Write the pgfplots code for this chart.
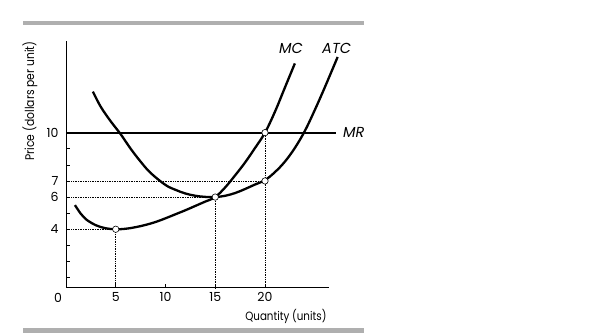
\documentclass[border=0pt]{standalone}
\usepackage{pgfplots}
\pgfplotsset{compat=1.18}
\usepackage{fontspec}
\setmainfont{Poppins}[FakeStretch=0.86]
\newfontfamily\wideface{Poppins}
\definecolor{bargray}{RGB}{175,175,175}
\begin{document}
\begin{tikzpicture}[x=1pt,y=1pt]
\useasboundingbox (0,0) rectangle (615,336);
\fill[bargray] (22.7,310.5) rectangle (364,315);
\fill[bargray] (22.7,3.3) rectangle (364,7.7);
\begin{axis}[
  at={(66pt,48.3pt)}, anchor=south west,
  x=9.95pt, y=16.1pt,
  xmin=0, xmax=26.4, ymin=0.37, ymax=15.7,
  axis lines*=left,
  axis line style={line width=0.8pt,-},
  tick align=inside,
  major tick length=4pt,
  tick style={line width=0.6pt,black},
  xtick={5,10,15,20},
  ytick={1,2,3,4,5,6,7,8,9,10},
  yticklabels={,,,4,,6,7,,,10},
  /pgf/number format/assume math mode=true,
  ticklabel style={font=\wideface\fontsize{12.5}{14}\selectfont},
  yticklabel style={xshift=-4pt},
  xticklabel style={yshift=-1pt},
  clip=false,
]
% dotted guide lines
\addplot[line width=0.7pt, dash pattern=on 0.8pt off 0.9pt] coordinates {(0,4) (5,4) (5,0.37)};
\addplot[line width=0.7pt, dash pattern=on 0.8pt off 0.9pt] coordinates {(0,6) (15,6) (15,0.37)};
\addplot[line width=0.7pt, dash pattern=on 0.8pt off 0.9pt] coordinates {(0,7) (20,7)};
\addplot[line width=0.7pt, dash pattern=on 0.8pt off 0.9pt] coordinates {(20,10) (20,0.37)};
% MR
\addplot[line width=2.3pt] coordinates {(0,10) (27.1,10)};
% MC
\addplot[line width=2.3pt, smooth, tension=0.6] coordinates {
(0.9,5.5) (1.5,4.95) (2,4.62) (3,4.25) (4,4.06) (5,4.0) (6,4.03) (7,4.13) (8,4.27) (9,4.45) (10,4.68) (11,4.93) (12,5.18) (13,5.45) (14,5.72) (15,6.0) (16,6.6) (17,7.35) (18,8.15) (19,9.05) (20,10.0) (21,11.3) (22,12.8) (23,14.3)};
% ATC
\addplot[line width=2.3pt, smooth, tension=0.6] coordinates {
(2.7,12.55) (3.5,11.6) (4.5,10.7) (5.5,9.9) (6.5,9.0) (7.5,8.2) (8.5,7.5) (10,6.75) (11,6.45) (12,6.22) (13,6.08) (14,6.01) (15,6.0) (16,6.08) (17,6.25) (18,6.5) (19,6.78) (20,7.05) (21,7.55) (22,8.2) (23,9.05) (24,10.1) (25,11.4) (26,12.8) (27.3,14.7)};
% points
\addplot[only marks, mark=*, mark size=3.2pt, mark options={fill=white, draw=black, line width=0.6pt}] coordinates {(5,4) (15,6) (20,7) (20,10)};
\node[font=\wideface\fontsize{14.5}{16}\selectfont\itshape] at (axis cs:22.6,15.25) {MC};
\node[font=\wideface\fontsize{14.5}{16}\selectfont\itshape] at (axis cs:27.2,15.25) {ATC};
\node[font=\wideface\fontsize{14.5}{16}\selectfont\itshape, anchor=west] at (axis cs:27.5,10) {MR};
\end{axis}
\node[font=\wideface\fontsize{12.5}{14}\selectfont] at (58,38.3) {0};
\node[anchor=east, font=\fontsize{12}{14}\selectfont] at (330,19.3) {Quantity (units)};
\node[rotate=90, font=\fontsize{12.5}{14}\selectfont] at (30,235) {Price (dollars per unit)};
\end{tikzpicture}
\end{document}
